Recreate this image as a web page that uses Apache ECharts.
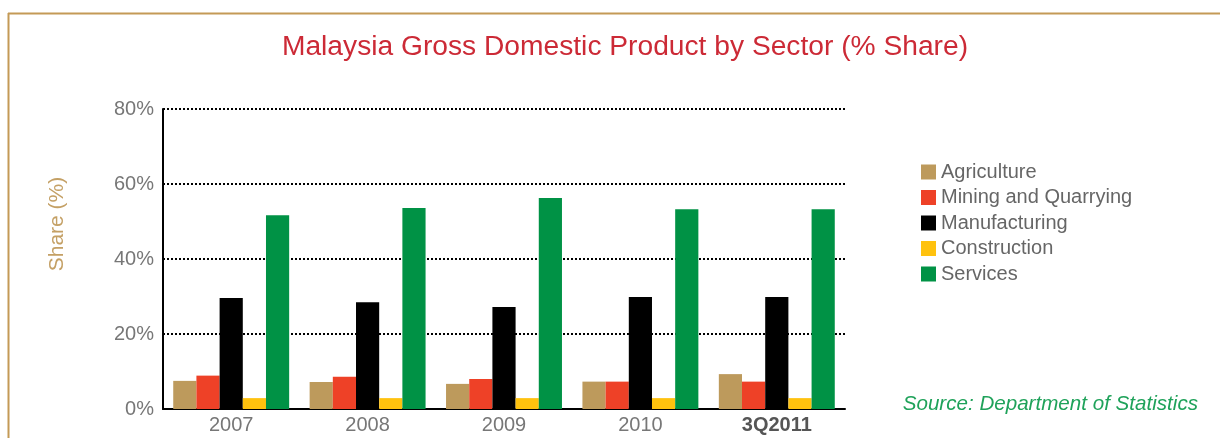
<!DOCTYPE html>
<html>
<head>
<meta charset="utf-8">
<script src="https://cdn.jsdelivr.net/npm/echarts@6/dist/echarts.min.js"></script>
<style>
html,body{margin:0;padding:0;background:#fff;}
#chart{width:1220px;height:438px;}
</style>
</head>
<body>
<div id="chart"></div>
<script>
const categories = ['2007', '2008', '2009', '2010', '3Q2011'];
const agriculture = [7.5, 7.2, 6.7, 7.3, 9.3];
const mining = [8.9, 8.6, 8.0, 7.3, 7.3];
const manufacturing = [29.6, 28.5, 27.2, 29.9, 29.9];
const construction = [2.9, 2.9, 2.9, 2.9, 2.9];
const services = [51.7, 53.6, 56.3, 53.3, 53.3];
const yTicks = [0, 20, 40, 60, 80];

const seriesDefs = [
  ['Agriculture', agriculture, '#BD9A5C'],
  ['Mining and Quarrying', mining, '#EE4127'],
  ['Manufacturing', manufacturing, '#000000'],
  ['Construction', construction, '#FFC20E'],
  ['Services', services, '#009245']
];

const chart = echarts.init(document.getElementById('chart'), null, {renderer: 'canvas'});
const font = 'Liberation Sans, Arial, Helvetica, sans-serif';

chart.setOption({
  animation: false,
  backgroundColor: '#ffffff',
  title: {
    text: 'Malaysia Gross Domestic Product by Sector (% Share)',
    left: 620, textAlign: 'center', top: 28,
    textStyle: {color: '#CC2A36', fontSize: 28.2, fontWeight: 'normal', fontFamily: font}
  },
  legend: {
    orient: 'vertical', left: 921, top: 162, padding: 0,
    itemWidth: 15, itemHeight: 15, itemGap: 5.5,
    icon: 'rect',
    textStyle: {color: '#666666', fontSize: 20, fontFamily: font, lineHeight: 20},
    data: seriesDefs.map(d => d[0])
  },
  grid: {left: 163, right: 375, top: 109, bottom: 29, containLabel: false},
  xAxis: {
    type: 'category', data: categories,
    axisLine: {lineStyle: {color: '#000', width: 2}},
    axisTick: {show: false},
    axisLabel: {
      margin: 6, fontSize: 20, color: '#777777', fontFamily: font,
      formatter: v => v === '3Q2011' ? '{b|' + v + '}' : v,
      rich: {b: {fontWeight: 'bold', color: '#555555', fontSize: 20, fontFamily: font}}
    }
  },
  yAxis: {
    type: 'value', min: yTicks[0], max: yTicks[yTicks.length - 1], interval: 20,
    axisLine: {show: true, lineStyle: {color: '#000', width: 2}},
    axisTick: {show: false},
    axisLabel: {formatter: '{value}%', fontSize: 20, color: '#777777', margin: 9, fontFamily: font},
    splitLine: {show: true, lineStyle: {color: '#000', width: 2, type: [2, 2]}}
  },
  graphic: [
    {type: 'line', shape: {x1: 8, y1: 13.5, x2: 1220, y2: 13.5}, style: {stroke: '#C49A56', lineWidth: 2}},
    {type: 'line', shape: {x1: 8.5, y1: 13, x2: 8.5, y2: 438}, style: {stroke: '#C49A56', lineWidth: 2}},
    {type: 'text', x: 57, y: 224, rotation: Math.PI / 2,
     style: {text: 'Share (%)', fill: '#C4A065', font: '21px ' + font, textAlign: 'center', textVerticalAlign: 'middle'}},
    {type: 'text', right: 22, top: 394, style: {text: 'Source: Department of Statistics', fill: '#1FA25A', font: 'italic 20.6px ' + font}}
  ],
  series: seriesDefs.map(d => ({
    name: d[0], type: 'bar', data: d[1],
    barGap: '0%', barCategoryGap: '15%',
    itemStyle: {color: d[2]}
  }))
});
</script>
</body>
</html>
